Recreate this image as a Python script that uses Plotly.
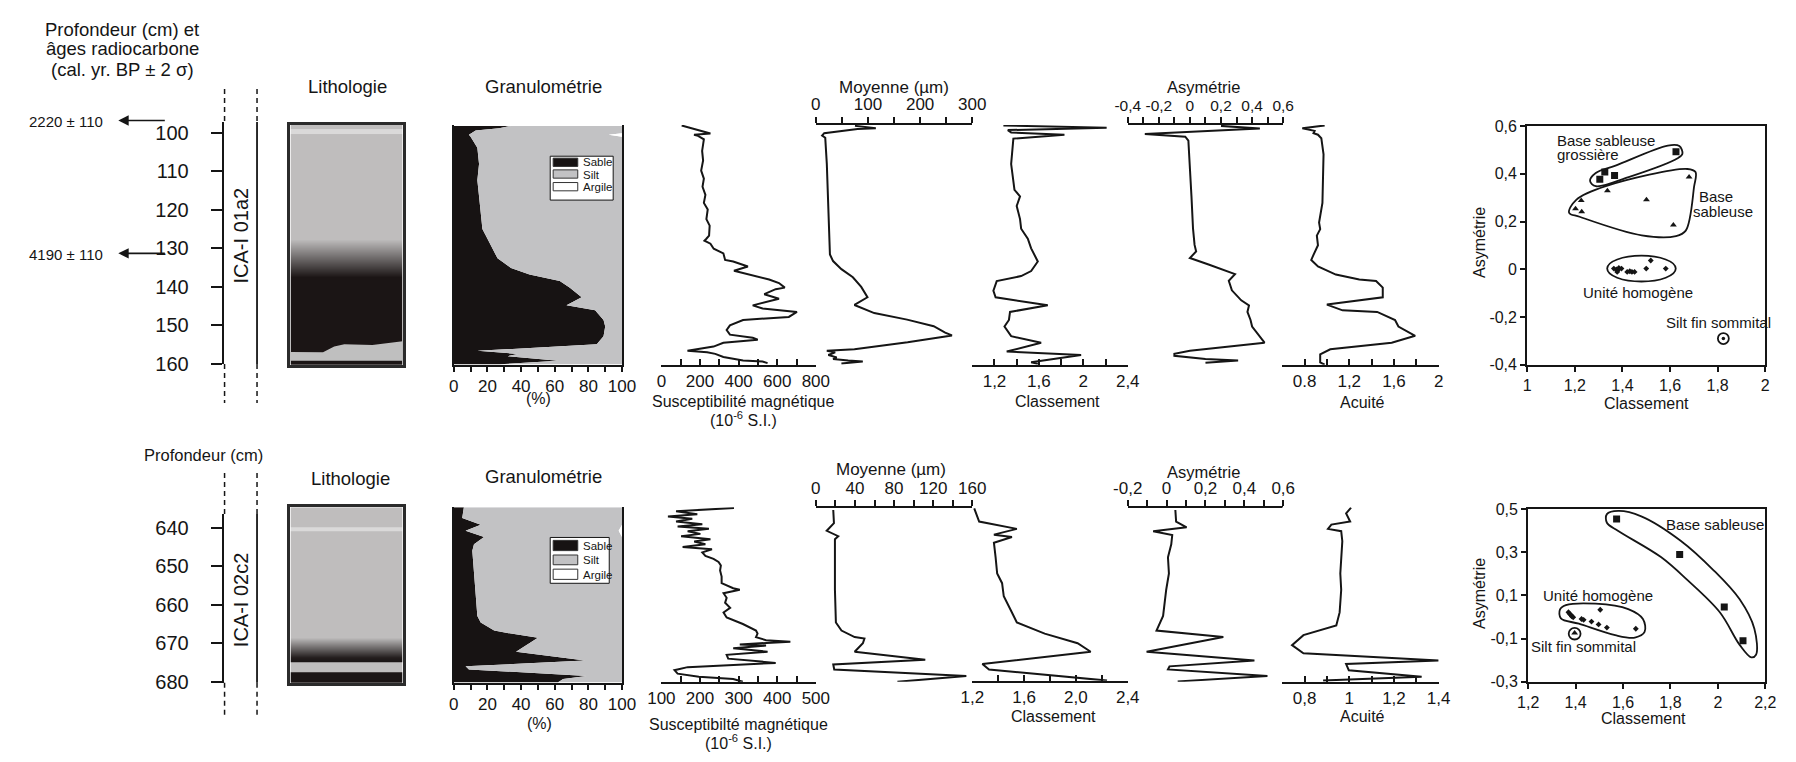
import plotly.graph_objects as go

W, H = 1796, 762
FONT = "Liberation Sans, Arial, sans-serif"
INK = "#151515"
SAND_C = "#171313"
SILT_C = "#c2c2c4"
LITHO_SCALE = [[0, "#1b1515"], [1, "#ffffff"]]

# ====================== core ICA-I 01a2 (upper row) ======================
core1_name = "ICA-I 01a2"
age_labels = ["2220 ± 110", "4190 ± 110"]
age_depths = [96.8, 131.3]
depth1_ticks = [100, 110, 120, 130, 140, 150, 160]

# lithology: grey tone (0 = dark sand, 255 = white) by depth
litho1_depth = [97.5, 98.7, 98.9, 100.1, 100.3, 127.5, 137.5, 161.0]
litho1_tone = [183, 183, 214, 214, 183, 183, 0, 0]
# silty lens at the base of the core (fraction of column width, depth)
lens1_x = [0.0, 0.29, 0.39, 0.48, 0.73, 0.85, 1.0, 1.0, 0.0]
lens1_depth = [156.9, 157.0, 155.5, 154.9, 155.1, 154.7, 154.1, 159.2, 159.2]

# granulometry (%)
gran1_depth = [98.2, 98.8, 99.4, 100.1, 100.5, 101.0, 103.9, 108.1, 112.3, 116.5,
               120.8, 125.0, 129.2, 132.6, 135.1, 136.8, 138.5, 140.2, 142.7, 144.8,
               146.1, 148.6, 150.3, 152.8, 154.9, 156.6, 157.4, 158.0, 159.2, 160.1]
gran1_sand = [34, 27, 13, 10, 9, 10, 14, 15, 14, 15,
              16, 17, 22, 26, 34, 45, 63, 69, 76, 67,
              84, 89, 90, 89, 85, 14, 38, 32, 62, 27]
gran1_clay = [0, 0, 0, 0, 8, 0, 0, 0, 0, 0,
              0, 0, 0, 0, 0, 0, 0, 0, 0, 0,
              0, 0, 0, 0, 0, 0, 0, 0, 0, 0]

# magnetic susceptibility (10^-6 SI)
sus1_depth = [98.1, 100.2, 100.5, 100.8, 101.7, 104.7, 107.2, 109.8, 111.9, 114.0,
              116.1, 118.2, 119.9, 122.4, 124.1, 126.7, 127.5, 128.0, 128.8, 130.1,
              131.3, 133.0, 133.4, 134.7, 135.8, 136.8, 138.1, 139.0, 140.2, 140.6,
              141.9, 143.1, 144.8, 145.6, 146.5, 147.8, 148.6, 150.0, 151.2, 152.4,
              153.2, 153.7, 154.5, 155.5, 156.6, 157.0, 157.4, 158.2, 159.1, 159.4, 159.8]
sus1_val = [105, 254, 169, 190, 220, 211, 216, 206, 220, 213,
            228, 220, 240, 233, 250, 247, 233, 223, 254, 271,
            321, 330, 372, 448, 376, 456, 558, 609, 639, 592,
            533, 609, 473, 524, 702, 660, 423, 355, 338, 355,
            473, 499, 321, 270, 135, 237, 279, 321, 423, 524, 550]

# mean grain size (µm)
moy1_depth = [98.2, 98.8, 99.0, 100.1, 100.7, 101.3, 108.0, 116.5, 124.9, 131.6,
              133.3, 135.4, 137.5, 140.0, 142.7, 144.7, 146.8, 148.5, 150.2, 151.9,
              152.6, 154.4, 156.2, 156.6, 157.0, 157.7, 158.3, 158.7, 159.1, 159.4, 159.9]
moy1_val = [75, 115, 80, 16, 12, 18, 21, 23, 24, 27,
            33, 49, 71, 87, 99, 74, 112, 175, 226, 248,
            261, 176, 74, 21, 37, 24, 40, 33, 62, 90, 49]

# sorting
cla1_depth = [98.1, 98.7, 99.3, 99.9, 100.5, 101.5, 108.1, 111.9, 114.8, 116.5,
              119.0, 122.4, 124.9, 127.5, 130.0, 133.4, 135.9, 137.2, 138.5, 141.0,
              142.7, 144.8, 146.5, 148.6, 150.3, 152.8, 154.5, 156.8, 157.7, 159.6, 160.0]
cla1_val = [1.28, 2.21, 1.32, 1.35, 1.83, 1.37, 1.35, 1.37, 1.38, 1.43,
            1.40, 1.43, 1.44, 1.50, 1.53, 1.59, 1.53, 1.44, 1.22, 1.19,
            1.21, 1.68, 1.34, 1.33, 1.29, 1.35, 1.62, 1.31, 1.98, 1.53, 1.59]

# skewness
asy1_depth = [98.2, 98.9, 100.3, 101.0, 102.0, 108.1, 116.5, 124.9, 129.1, 130.8,
              132.5, 134.2, 136.7, 138.4, 140.9, 143.5, 144.8, 146.5, 148.6, 150.3,
              154.5, 156.6, 157.4, 157.9, 158.7, 159.1, 159.7]
asy1_val = [0.20, 0.45, -0.29, -0.03, -0.01, 0.00, 0.01, 0.02, 0.03, 0.04,
            0.00, 0.12, 0.29, 0.25, 0.27, 0.33, 0.38, 0.37, 0.39, 0.40,
            0.48, 0.00, -0.10, -0.10, 0.10, 0.31, 0.10]

# kurtosis
acu1_depth = [98.1, 98.8, 99.5, 100.1, 100.5, 101.4, 105.6, 114.0, 118.2, 123.3,
              125.0, 126.7, 129.2, 131.7, 133.0, 134.7, 136.8, 138.1, 138.5, 140.2,
              142.7, 144.6, 146.1, 146.5, 148.6, 150.3, 152.7, 154.5, 156.2, 157.5,
              159.6, 160.2]
acu1_val = [0.98, 0.78, 0.89, 0.88, 0.92, 0.95, 0.97, 0.96, 0.96, 0.93,
            0.94, 0.91, 0.92, 0.88, 0.86, 0.92, 1.08, 1.29, 1.44, 1.50,
            1.50, 1.00, 1.14, 1.45, 1.61, 1.64, 1.79, 1.58, 1.03, 0.94,
            0.94, 0.98]

# sorting vs skewness groups
sc1_coarse_x = [1.305, 1.326, 1.367, 1.625]
sc1_coarse_y = [0.377, 0.407, 0.393, 0.492]
sc1_base_x = [1.203, 1.227, 1.229, 1.337, 1.501, 1.614, 1.680]
sc1_base_y = [0.254, 0.288, 0.241, 0.329, 0.291, 0.186, 0.386]
sc1_homog_x = [1.364, 1.375, 1.380, 1.385, 1.396, 1.378, 1.420, 1.431, 1.440, 1.451, 1.500, 1.519, 1.582]
sc1_homog_y = [0.003, -0.001, -0.005, 0.006, 0.003, -0.011, -0.011, -0.008, -0.011, -0.011, 0.003, 0.037, 0.003]
sc1_top_x = [1.824]
sc1_top_y = [-0.29]

# ====================== core ICA-I 02c2 (lower row) ======================
core2_name = "ICA-I 02c2"
depth2_ticks = [640, 650, 660, 670, 680]

litho2_depth = [634.0, 639.7, 639.9, 640.8, 641.0, 668.4, 673.6, 674.7, 674.85, 677.5, 677.65, 681.0]
litho2_tone = [183, 183, 214, 214, 183, 183, 10, 0, 183, 183, 0, 0]

gran2_depth = [634.7, 637.5, 639.2, 640.8, 642.4, 644.3, 646.0, 651.9, 657.8, 662.9,
               664.6, 666.7, 667.5, 668.6, 672.2, 674.5, 676.0, 676.8, 678.5, 679.3, 680.1]
gran2_sand = [6, 5, 16, 7, 18, 12, 11, 12, 13, 14,
              16, 24, 34, 50, 37, 78, 7, 9, 79, 65, 62]
gran2_clay = [0, 0, 0, 2, 0, 0, 0, 0, 0, 0,
              0, 0, 0, 0, 0, 0, 0, 0, 0, 0, 0]

sus2_depth = [634.9, 635.7, 636.5, 637.1, 637.7, 638.4, 639.1, 639.7, 640.3, 640.9,
              641.6, 642.2, 643.0, 643.6, 644.3, 645.0, 645.6, 646.4, 647.3, 648.1,
              648.9, 649.8, 651.1, 652.7, 654.4, 655.7, 656.1, 657.0, 658.2, 659.5,
              660.8, 662.0, 663.3, 665.0, 666.7, 667.5, 668.4, 669.2, 669.6, 670.3,
              670.6, 671.3, 672.2, 673.0, 674.0, 675.1, 676.2, 677.0, 677.9, 678.7,
              679.3, 680.0]
sus2_val = [288, 138, 193, 117, 180, 138, 206, 142, 223, 168,
            201, 151, 227, 185, 214, 155, 231, 206, 214, 235,
            248, 254, 252, 256, 256, 286, 303, 261, 269, 265,
            278, 261, 269, 311, 345, 349, 345, 371, 434, 303,
            371, 286, 375, 269, 273, 396, 168, 134, 142, 197,
            286, 311]

moy2_depth = [635.4, 638.8, 640.8, 642.2, 643.0, 647.7, 656.1, 664.6, 666.7, 668.4,
              668.8, 670.0, 672.2, 674.3, 675.5, 676.8, 678.5, 680.0]
moy2_val = [17.8, 18.5, 11.1, 22.9, 19.5, 19.5, 19.5, 20.5, 26.2, 39.7,
            49.7, 48.1, 39.7, 111.9, 17.8, 18.8, 153.9, 83.4]

cla2_depth = [635.0, 638.4, 640.3, 641.8, 642.4, 643.9, 647.7, 651.9, 654.4, 657.8,
              662.0, 664.6, 667.5, 670.0, 672.2, 675.4, 676.8, 679.7]
cla2_val = [1.215, 1.253, 1.544, 1.367, 1.506, 1.367, 1.380, 1.392, 1.430, 1.443,
            1.506, 1.544, 1.759, 2.013, 2.114, 1.278, 1.329, 2.240]

asy2_depth = [635.4, 638.4, 639.9, 640.9, 641.9, 644.3, 647.7, 651.9, 656.1, 662.9,
              666.7, 668.4, 672.2, 674.5, 676.0, 676.8, 678.5, 679.9]
asy2_val = [0.045, 0.049, 0.103, -0.069, 0.029, 0.024, 0.007, 0.012, -0.002, -0.018,
            -0.052, 0.292, -0.103, 0.452, 0.015, 0.007, 0.519, 0.057]

acu2_depth = [634.8, 636.3, 638.4, 639.2, 640.3, 640.9, 643.5, 647.7, 651.9, 656.1,
              662.0, 665.4, 667.9, 670.5, 672.6, 674.5, 675.4, 677.0, 678.7, 679.7]
acu2_val = [1.008, 0.986, 1.004, 0.920, 0.905, 0.964, 0.969, 0.964, 0.960, 0.964,
            0.957, 0.942, 0.795, 0.744, 0.795, 1.400, 0.986, 0.998, 1.324, 0.883]

sc2_base_x = [1.573, 1.839, 2.027, 2.106]
sc2_base_y = [0.455, 0.290, 0.047, -0.110]
sc2_homog_x = [1.370, 1.375, 1.380, 1.384, 1.390, 1.425, 1.434, 1.467, 1.497, 1.532, 1.504, 1.654]
sc2_homog_y = [0.022, 0.015, 0.010, 0.003, -0.001, -0.009, -0.013, -0.021, -0.034, -0.049, 0.034, -0.054]
sc2_top_x = [1.396]
sc2_top_y = [-0.074]

# ====================== tick labels ======================
gran_ticks = [0, 10, 20, 30, 40, 50, 60, 70, 80, 90, 100]
gran_text = ["0", "", "20", "", "40", "", "60", "", "80", "", "100"]

sus1_ticks = [0, 100, 200, 300, 400, 500, 600, 700, 800]
sus1_text = ["0", "", "200", "", "400", "", "600", "", "800"]
moy1_ticks = [0, 50, 100, 150, 200, 250, 300]
moy1_text = ["0", "", "100", "", "200", "", "300"]
cla1_ticks = [1.0, 1.2, 1.4, 1.6, 1.8, 2.0, 2.2, 2.4]
cla1_text = ["", "1,2", "", "1,6", "", "2", "", "2,4"]
asy1_ticks = [-0.4, -0.3, -0.2, -0.1, 0.0, 0.1, 0.2, 0.3, 0.4, 0.5, 0.6]
asy1_text = ["-0,4", "", "-0,2", "", "0", "", "0,2", "", "0,4", "", "0,6"]
acu1_ticks = [0.6, 0.8, 1.0, 1.2, 1.4, 1.6, 1.8, 2.0]
acu1_text = ["", "0.8", "", "1,2", "", "1,6", "", "2"]
sc1_xticks = [1.0, 1.2, 1.4, 1.6, 1.8, 2.0]
sc1_xtext = ["1", "1,2", "1,4", "1,6", "1,8", "2"]
sc1_yticks = [-0.4, -0.2, 0.0, 0.2, 0.4, 0.6]
sc1_ytext = ["-0,4", "-0,2", "0", "0,2", "0,4", "0,6"]

sus2_ticks = [100, 150, 200, 250, 300, 350, 400, 450, 500]
sus2_text = ["100", "", "200", "", "300", "", "400", "", "500"]
moy2_ticks = [0, 20, 40, 60, 80, 100, 120, 140, 160]
moy2_text = ["0", "", "40", "", "80", "", "120", "", "160"]
cla2_ticks = [1.2, 1.4, 1.6, 1.8, 2.0, 2.2, 2.4]
cla2_text = ["1,2", "", "1,6", "", "2,0", "", "2,4"]
asy2_ticks = [-0.2, -0.1, 0.0, 0.1, 0.2, 0.3, 0.4, 0.5, 0.6]
asy2_text = ["-0,2", "", "0", "", "0,2", "", "0,4", "", "0,6"]
acu2_ticks = [0.7, 0.8, 0.9, 1.0, 1.1, 1.2, 1.3, 1.4]
acu2_text = ["", "0,8", "", "1", "", "1,2", "", "1,4"]
sc2_xticks = [1.2, 1.4, 1.6, 1.8, 2.0, 2.2]
sc2_xtext = ["1,2", "1,4", "1,6", "1,8", "2", "2,2"]
sc2_yticks = [-0.3, -0.1, 0.1, 0.3, 0.5]
sc2_ytext = ["-0,3", "-0,1", "0,1", "0,3", "0,5"]

# ====================== layout helpers ======================
layout = dict(
    width=W, height=H, autosize=False,
    margin=dict(l=0, r=0, t=0, b=0),
    paper_bgcolor="white", plot_bgcolor="white",
    font=dict(family=FONT, size=17, color=INK),
    showlegend=False,
)
traces, annotations, shapes = [], [], []
_count = [0]


def subplot(xdom, ydom, xr, yr, xa=None, ya=None):
    """Create an axis pair; xdom/ydom are pixel spans (ydom measured from the top)."""
    _count[0] += 1
    s = "" if _count[0] == 1 else str(_count[0])
    xd = dict(domain=[xdom[0] / W, xdom[1] / W], range=xr, anchor="y" + s,
              showgrid=False, zeroline=False, fixedrange=True, tickangle=0)
    yd = dict(domain=[1 - ydom[1] / H, 1 - ydom[0] / H], range=yr, anchor="x" + s,
              showgrid=False, zeroline=False, fixedrange=True, tickangle=0)
    xd.update(xa or {})
    yd.update(ya or {})
    layout["xaxis" + s] = xd
    layout["yaxis" + s] = yd
    return "x" + s, "y" + s


def ruled(side, vals, text, ticks, size=17):
    return dict(side=side, showline=True, linecolor=INK, linewidth=1.8,
                ticks=ticks, ticklen=6, tickwidth=1.6, tickcolor=INK,
                tickvals=vals, ticktext=text, tickfont=dict(size=size, color=INK))


HIDDEN = dict(visible=False)


def label(t, px, py, size=16, angle=0, anchor="center"):
    annotations.append(dict(text=t, x=px / W, y=1 - py / H, xref="paper", yref="paper",
                            showarrow=False, textangle=angle, xanchor=anchor, yanchor="middle",
                            font=dict(size=size, color=INK, family=FONT)))


def vline(px, y0, y1, dash=None, width=1.5):
    ln = dict(color=INK, width=width)
    if dash:
        ln["dash"] = dash
    shapes.append(dict(type="line", xref="paper", yref="paper", x0=px / W, x1=px / W,
                       y0=1 - y0 / H, y1=1 - y1 / H, line=ln))


def prect(x0, y0, x1, y1, fill, border=INK, width=1):
    shapes.append(dict(type="rect", xref="paper", yref="paper", x0=x0 / W, x1=x1 / W,
                       y0=1 - y1 / H, y1=1 - y0 / H, fillcolor=fill,
                       line=dict(color=border, width=width)))


def curve(xa, ya, x, y):
    traces.append(go.Scatter(x=x, y=y, xaxis=xa, yaxis=ya, mode="lines",
                             line=dict(color=INK, width=2), hoverinfo="skip"))


def loop(xa, ya, pts):
    xs = [p[0] for p in pts] + [pts[0][0]]
    ys = [p[1] for p in pts] + [pts[0][1]]
    traces.append(go.Scatter(x=xs, y=ys, xaxis=xa, yaxis=ya, mode="lines",
                             line=dict(color=INK, width=1.8, shape="spline", smoothing=1.0),
                             hoverinfo="skip"))


def ring(xa, ya, x0, x1, y0, y1):
    shapes.append(dict(type="circle", xref=xa, yref=ya, x0=x0, x1=x1, y0=y0, y1=y1,
                       line=dict(color=INK, width=1.8)))


def note(xa, ya, t, x, y, anchor="center", size=15):
    annotations.append(dict(text=t, x=x, y=y, xref=xa, yref=ya, showarrow=False,
                            xanchor=anchor, yanchor="middle",
                            font=dict(size=size, color=INK, family=FONT)))


def points(xa, ya, x, y, symbol, size):
    traces.append(go.Scatter(x=x, y=y, xaxis=xa, yaxis=ya, mode="markers",
                             marker=dict(symbol=symbol, size=size, color=INK,
                                         line=dict(width=0)),
                             hoverinfo="skip"))


def granulometry(xa, ya, depth, sand, clay):
    upper = [100 - c for c in clay]
    full = [100 for _ in depth]
    traces.append(go.Scatter(x=sand, y=depth, xaxis=xa, yaxis=ya, mode="lines",
                             line=dict(width=0, color=SAND_C), fill="tozerox",
                             fillcolor=SAND_C, hoverinfo="skip"))
    traces.append(go.Scatter(x=upper, y=depth, xaxis=xa, yaxis=ya, mode="lines",
                             line=dict(width=0, color=SILT_C), fill="tonextx",
                             fillcolor=SILT_C, hoverinfo="skip"))
    traces.append(go.Scatter(x=full, y=depth, xaxis=xa, yaxis=ya, mode="lines",
                             line=dict(width=0, color="white"), fill="tonextx",
                             fillcolor="white", hoverinfo="skip"))


def lithology(xa, ya, depth, tone):
    traces.append(go.Heatmap(x=[-1, 2], y=depth, z=[[t, t] for t in tone],
                             xaxis=xa, yaxis=ya, zsmooth="best", zmin=0, zmax=255,
                             colorscale=LITHO_SCALE, showscale=False, hoverinfo="skip"))


BOX = dict(showline=True, mirror=True, linecolor="#2b2b2b", linewidth=2.5,
           ticks="", showticklabels=False)

# column pixel spans
DEPTH_X = (212, 213)
LITHO_X = (280, 394)
GRAN_X = (446, 617)
SUS_X = (657, 814)
MOY_X = (814, 973)
CLA_X = (973, 1131)
ASY_X = (1131, 1289)
ACU_X = (1288, 1447)


def depth_row1(py):
    return 100 + (py - 128) / 3.95


def row1_pixel(d):
    return 128 + (d - 100) * 3.95


def depth_row2(py):
    return 640 + (py - 533) / 3.95


def depth_scale(ticks):
    return dict(side="left", showline=True, linecolor=INK, linewidth=1.8,
                ticks="outside", ticklen=11, tickwidth=1.8, tickcolor=INK,
                tickvals=ticks, tickfont=dict(size=20, color=INK),
                ticklabelstandoff=18)


# ====================== upper row ======================
top, bot = 120, 366
yr = [depth_row1(bot), depth_row1(top)]

xa, ya = subplot(DEPTH_X, (117, 365), [0, 1], [depth_row1(365), depth_row1(117)], HIDDEN,
                 depth_scale(depth1_ticks))
traces.append(go.Scatter(x=[], y=[], xaxis=xa, yaxis=ya))
for txt, d in zip(age_labels, age_depths):
    py = row1_pixel(d)
    annotations.append(dict(text="", x=105 / W, xref="paper", y=1 - py / H, yref="paper",
                            showarrow=True, ax=48, ay=0, arrowhead=2, arrowsize=1.3,
                            arrowwidth=1.6, arrowcolor=INK))
    label(txt, 52, py + 1, 15)

xa, ya = subplot(LITHO_X, (top, bot), [0, 1], yr, BOX, BOX)
lithology(xa, ya, litho1_depth, litho1_tone)
traces.append(go.Scatter(x=lens1_x, y=lens1_depth, xaxis=xa, yaxis=ya, mode="lines",
                         line=dict(width=0, color="#bfbfbf"), fill="toself",
                         fillcolor="#bfbfbf", hoverinfo="skip"))

xa, ya = subplot(GRAN_X, (top, bot), [0, 100], yr,
                 dict(ruled("bottom", gran_ticks, gran_text, "outside"), ticklen=5),
                 dict(showline=True, mirror=True, linecolor=INK, linewidth=1.5, ticks="",
                      showticklabels=False))
granulometry(xa, ya, gran1_depth, gran1_sand, gran1_clay)

xa, ya = subplot(SUS_X, (top, bot), [0, 800], yr, ruled("bottom", sus1_ticks, sus1_text, "inside"), HIDDEN)
curve(xa, ya, sus1_val, sus1_depth)
xa, ya = subplot(MOY_X, (top, bot), [0, 300], yr, ruled("top", moy1_ticks, moy1_text, "outside"), HIDDEN)
curve(xa, ya, moy1_val, moy1_depth)
xa, ya = subplot(CLA_X, (top, bot), [1.0, 2.4], yr, ruled("bottom", cla1_ticks, cla1_text, "inside"), HIDDEN)
curve(xa, ya, cla1_val, cla1_depth)
xa, ya = subplot(ASY_X, (top, bot), [-0.4, 0.6], yr,
                 ruled("top", asy1_ticks, asy1_text, "outside", size=15.5), HIDDEN)
curve(xa, ya, asy1_val, asy1_depth)
xa, ya = subplot(ACU_X, (top, bot), [0.6, 2.0], yr, ruled("bottom", acu1_ticks, acu1_text, "inside"), HIDDEN)
curve(xa, ya, acu1_val, acu1_depth)

# sorting / skewness diagram
frame1x = dict(showline=True, mirror=True, linecolor=INK, linewidth=2, ticks="outside",
               ticklen=5, tickwidth=1.6, tickcolor=INK, tickvals=sc1_xticks,
               ticktext=sc1_xtext, tickfont=dict(size=16, color=INK))
frame1y = dict(frame1x, tickvals=sc1_yticks, ticktext=sc1_ytext)
xa, ya = subplot((1537, 1779), (121, 366), [1.0, 2.0], [-0.4, 0.6], frame1x, frame1y)
loop(xa, ya, [(1.264, 0.370), (1.288, 0.403), (1.371, 0.434), (1.591, 0.518), (1.639, 0.516),
              (1.652, 0.484), (1.632, 0.465), (1.426, 0.386), (1.288, 0.348)])
loop(xa, ya, [(1.176, 0.237), (1.206, 0.291), (1.330, 0.348), (1.673, 0.420), (1.707, 0.407),
              (1.701, 0.346), (1.666, 0.162), (1.625, 0.139), (1.481, 0.142), (1.220, 0.220)])
ring(xa, ya, 1.336, 1.624, -0.051, 0.057)
ring(xa, ya, 1.801, 1.847, -0.313, -0.267)
points(xa, ya, sc1_coarse_x, sc1_coarse_y, "square", 7)
points(xa, ya, sc1_base_x, sc1_base_y, "triangle-up", 6)
points(xa, ya, sc1_homog_x, sc1_homog_y, "diamond", 4.5)
points(xa, ya, sc1_top_x, sc1_top_y, "circle", 3.5)
note(xa, ya, "Base sableuse", 1.117, 0.539, anchor="left")
note(xa, ya, "grossière", 1.117, 0.479, anchor="left")
note(xa, ya, "Base", 1.795, 0.305)
note(xa, ya, "sableuse", 1.824, 0.244)
note(xa, ya, "Unité homogène", 1.467, -0.097)
note(xa, ya, "Silt fin sommital", 1.805, -0.223)

# ====================== lower row ======================
top, bot = 512, 691
yr = [depth_row2(bot), depth_row2(top)]

xa, ya = subplot(DEPTH_X, (519, 692), [0, 1], [depth_row2(692), depth_row2(519)], HIDDEN,
                 depth_scale(depth2_ticks))
traces.append(go.Scatter(x=[], y=[], xaxis=xa, yaxis=ya))

xa, ya = subplot(LITHO_X, (top, 692), [0, 1], [depth_row2(692), depth_row2(top)], BOX, BOX)
lithology(xa, ya, litho2_depth, litho2_tone)

xa, ya = subplot(GRAN_X, (top, 692), [0, 100], [depth_row2(692), depth_row2(top)],
                 dict(ruled("bottom", gran_ticks, gran_text, "outside"), ticklen=5),
                 dict(showline=True, mirror=True, linecolor=INK, linewidth=1.5, ticks="",
                      showticklabels=False))
granulometry(xa, ya, gran2_depth, gran2_sand, gran2_clay)

xa, ya = subplot(SUS_X, (top, bot), [100, 500], yr, ruled("bottom", sus2_ticks, sus2_text, "inside"), HIDDEN)
curve(xa, ya, sus2_val, sus2_depth)
xa, ya = subplot(MOY_X, (513, bot), [0, 160], [depth_row2(bot), depth_row2(513)],
                 ruled("top", moy2_ticks, moy2_text, "outside"), HIDDEN)
curve(xa, ya, moy2_val, moy2_depth)
xa, ya = subplot(CLA_X, (top, 690), [1.2, 2.4], [depth_row2(690), depth_row2(top)],
                 ruled("bottom", cla2_ticks, cla2_text, "inside"), HIDDEN)
curve(xa, ya, cla2_val, cla2_depth)
xa, ya = subplot(ASY_X, (513, bot), [-0.2, 0.6], [depth_row2(bot), depth_row2(513)],
                 ruled("top", asy2_ticks, asy2_text, "outside"), HIDDEN)
curve(xa, ya, asy2_val, asy2_depth)
xa, ya = subplot(ACU_X, (top, bot), [0.7, 1.4], yr, ruled("bottom", acu2_ticks, acu2_text, "inside"), HIDDEN)
curve(xa, ya, acu2_val, acu2_depth)

frame2x = dict(frame1x, tickvals=sc2_xticks, ticktext=sc2_xtext)
frame2y = dict(frame1x, tickvals=sc2_yticks, ticktext=sc2_ytext)
xa, ya = subplot((1538, 1779), (514, 691), [1.2, 2.2], [-0.3, 0.5], frame2x, frame2y)
loop(xa, ya, [(1.532, 0.477), (1.580, 0.492), (1.677, 0.467), (1.843, 0.354), (1.981, 0.218),
              (2.092, 0.082), (2.154, -0.054), (2.161, -0.175), (2.141, -0.187), (2.092, -0.129),
              (2.009, 0.021), (1.871, 0.172), (1.760, 0.278), (1.580, 0.399), (1.532, 0.437)])
loop(xa, ya, [(1.334, 0.034), (1.359, 0.055), (1.484, 0.062), (1.622, 0.037), (1.684, -0.009),
              (1.691, -0.069), (1.650, -0.095), (1.567, -0.084), (1.414, -0.031), (1.338, -0.006)])
ring(xa, ya, 1.371, 1.421, -0.104, -0.050)
points(xa, ya, sc2_base_x, sc2_base_y, "square", 7)
points(xa, ya, sc2_homog_x, sc2_homog_y, "diamond", 4.5)
points(xa, ya, sc2_top_x, sc2_top_y, "triangle-up", 6)
note(xa, ya, "Base sableuse", 1.99, 0.429)
note(xa, ya, "Unité homogène", 1.495, 0.100)
note(xa, ya, "Silt fin sommital", 1.435, -0.137)

# ====================== core frame lines ======================
for x in (213, 246):
    vline(x, 83, 117, dash="5px,4px")
    vline(x, 365, 405, dash="5px,4px")
    vline(x, 477, 519, dash="5px,4px")
    vline(x, 692, 728, dash="5px,4px")
vline(246, 117, 365, width=1.8)
vline(246, 519, 692, width=1.8)

# ====================== granulometry keys ======================
for (bx0, by0, bx1, by1), rows in (
        ((544, 152, 608, 197), [(154, 162.5, 158), (166, 174.5, 171), (179, 187.5, 184)]),
        ((544, 543, 604, 590), [(546, 556.5, 552), (561, 571, 566.5), (575.5, 586, 581.5)])):
    prect(bx0, by0, bx1, by1, "white", INK, 1)
    for (s0, s1, ty), fill, name in zip(rows, (SAND_C, SILT_C, "white"), ("Sable", "Silt", "Argile")):
        prect(547, s0, 572, s1, fill, "#333333", 1)
        annotations.append(dict(text=name, x=575 / W, y=1 - ty / H, xref="paper", yref="paper",
                                showarrow=False, xanchor="left", yanchor="middle",
                                font=dict(size=11.5, color=INK,
                                          family="Liberation Sans Narrow, Liberation Sans, Arial")))

# ====================== headings and axis titles ======================
label("Profondeur (cm) et", 109, 22, 18.5)
label("âges radiocarbone", 109, 42, 18.5)
label("(cal. yr. BP ± 2 σ)", 109, 63, 18.5)
label(core1_name, 230, 233, 20, angle=-90)
label("Lithologie", 338, 81, 18.5)
label("Granulométrie", 537, 81, 18.5)
label("Moyenne (µm)", 893, 82, 17)
label("Asymétrie", 1208, 81, 16.5)
label("(%)", 532, 400, 16)
label("Susceptibilité magnétique", 740, 404, 16)
label("(10<sup>-6</sup> S.I.)", 740, 422, 16)
label("Classement", 1060, 404, 16)
label("Acuité", 1370, 405, 16)
label("Classement", 1658, 406, 16)
label("Asymétrie", 1488, 240, 16, angle=-90)

label("Profondeur (cm)", 192, 458, 16.5)
label(core2_name, 230, 607, 20, angle=-90)
label("Lithologie", 341, 483, 18.5)
label("Granulométrie", 537, 480, 18.5)
label("Moyenne (µm)", 890, 473, 17)
label("Asymétrie", 1208, 476, 16.5)
label("(%)", 533, 734, 16)
label("Susceptibilté magnétique", 735, 735, 16)
label("(10<sup>-6</sup> S.I.)", 735, 753, 16)
label("Classement", 1056, 727, 16)
label("Acuité", 1370, 727, 16)
label("Classement", 1655, 729, 16)
label("Asymétrie", 1488, 600, 16, angle=-90)

layout["annotations"] = annotations
layout["shapes"] = shapes

fig = go.Figure(data=traces, layout=layout)
fig.write_html("out.html")
